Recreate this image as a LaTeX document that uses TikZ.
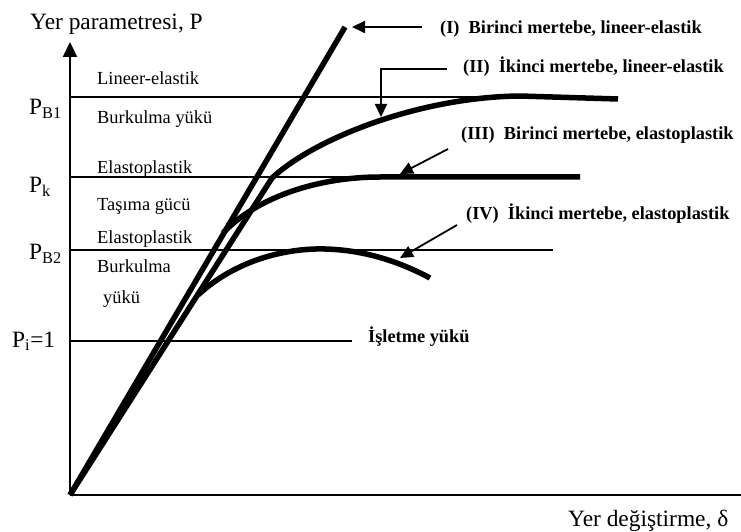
\documentclass[tikz,border=0pt]{standalone}
\usepackage{fontspec}
\setmainfont{Liberation Serif}
\usetikzlibrary{arrows.meta}

\begin{document}
\begin{tikzpicture}[x=1bp,y=-1bp,
   axis/.style={line width=2.2bp},
   level/.style={line width=1.4bp},
   curve/.style={line width=5.5bp,line join=round},
   pointer/.style={line width=1.8bp,-{Triangle[length=13bp,width=12bp]}},
   region/.style={anchor=base west,inner sep=0pt,font=\fontsize{18.5}{20}\selectfont},
   casename/.style={anchor=base west,inner sep=0pt,font=\fontsize{18.4}{20}\selectfont\bfseries},
   axisname/.style={anchor=base west,inner sep=0pt,font=\fontsize{23.5}{25}\selectfont}]
 \useasboundingbox (0,0) rectangle (741,532);

 % axes
 \coordinate (O) at (70,495);
 \coordinate (ytop) at (70,42);
 \coordinate (xend) at (741,495);
   \draw [axis,-{Triangle[length=15bp,width=14bp]}] (O)--(ytop);
   \draw [axis] (O)--(xend);
 \node [axisname] (ylab) at (30,30) {Yer parametresi, P};
 \node [axisname] (xlab) at (568,526) {Yer değiştirme, δ};

 % load levels
\draw [level] (70,97)--(540,97);
\node [axisname] (pb1) at (29,115) {P\textsubscript{B1}};
\draw [level] (70,177)--(580,177);
\node [axisname] (pk) at (29,193) {P\textsubscript{k}};
\draw [level] (70,250)--(553,250);
\node [axisname] (pb2) at (29,260) {P\textsubscript{B2}};
\draw [level] (70,341)--(352,341);
\node [axisname] (pi) at (12,347) {P\textsubscript{i}=1};

 % region names
\node [region] (r1) at (97,85)  {Lineer-elastik};
\node [region] (r2) at (97,124) {Burkulma yükü};
\node [region] (r3) at (97,174) {Elastoplastik};
\node [region] (r4) at (97,211) {Taşıma gücü};
\node [region] (r5) at (97,244) {Elastoplastik};
\node [region] (r6) at (97,273) {Burkulma};
\node [region] (r7) at (103,303) {yükü};

 % curves
\coordinate (Itop) at (345,27);
\draw [curve] (O)--(Itop);
\draw [curve] (O)--(272,178) .. controls (315,138) and (420,97) .. (520,96)--(618,99);
\draw [curve] (223,233) .. controls (258,196) and (320,177) .. (380,177)--(580,177);
\draw [curve] (198,295) .. controls (238,258) and (290,248) .. (325,249)
        .. controls (365,250) and (400,262) .. (430,278);

 % case names and pointers
\node [casename] (c1) at (440,34)  {(I)~ Birinci mertebe, lineer-elastik};
\node [casename] (c2) at (463,73)  {(II)~ İkinci mertebe, lineer-elastik};
\node [casename] (c3) at (461,140) {(III)~ Birinci mertebe, elastoplastik};
\node [casename] (c4) at (466,220) {(IV)~ İkinci mertebe, elastoplastik};
\node [casename] (c5) at (368,342) {İşletme yükü};

\coordinate (t1) at (352,27);
\coordinate (t2) at (381,117);
\coordinate (t3) at (400,174);
\coordinate (t4) at (400,258);
\draw [pointer] (422,27)--(t1);
\draw [pointer] (447,69)-|(t2);
\draw [pointer] (448,149)--(t3);
\draw [pointer] (457,225)--(t4);

\end{tikzpicture}
\end{document}
